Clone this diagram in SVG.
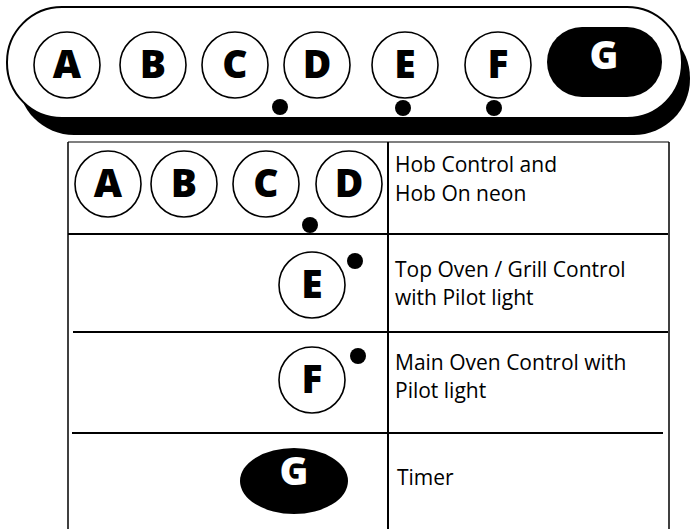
<svg xmlns="http://www.w3.org/2000/svg" width="692" height="529" viewBox="0 0 692 529">
<style>
.knob{fill:#fff;stroke:#000;stroke-width:1.6}
.let{font-family:"Open Sans","Liberation Sans",sans-serif;font-weight:800;font-size:39px;text-anchor:middle;fill:#000}
.letw{font-family:"Open Sans","Liberation Sans",sans-serif;font-weight:800;font-size:39px;text-anchor:middle;fill:#fff}
.dot{fill:#000}
.lbl{font-family:"Open Sans","Liberation Sans",sans-serif;font-size:21px;fill:#000}
.ln{stroke:#000;fill:none}
</style>
<rect width="692" height="529" fill="#fff"/>
<g id="panel">
<rect x="18" y="22" width="672" height="113" rx="56" fill="#000"/>
<rect x="7" y="7" width="675" height="111" rx="55" fill="#fff" stroke="#000" stroke-width="2"/>
</g>
<g id="panel-A"><circle class="knob" cx="67" cy="65" r="33"/><text class="let" x="67" y="78">A</text></g>
<g id="panel-B"><circle class="knob" cx="153" cy="65" r="33"/><text class="let" x="153" y="78">B</text></g>
<g id="panel-C"><circle class="knob" cx="235" cy="65" r="33"/><text class="let" x="235" y="78">C</text></g>
<g id="panel-D"><circle class="knob" cx="317" cy="65" r="33"/><text class="let" x="317" y="78">D</text></g>
<g id="panel-E"><circle class="knob" cx="405" cy="65" r="33"/><text class="let" x="405" y="78">E</text></g>
<g id="panel-F"><circle class="knob" cx="498" cy="65" r="33"/><text class="let" x="498" y="78">F</text></g>
<g id="panel-G"><rect x="547" y="27" width="115" height="70" rx="35" fill="#000"/><text class="letw" x="604" y="69">G</text></g>
<g id="panel-dots">
<circle class="dot" cx="280" cy="107" r="8"/>
<circle class="dot" cx="403" cy="108" r="8"/>
<circle class="dot" cx="494" cy="108" r="8"/>
</g>
<g id="connectors">
<line class="ln" x1="68" y1="142" x2="669" y2="142" stroke-width="1.2"/>
<line class="ln" x1="68" y1="142" x2="68" y2="529" stroke-width="1.5"/>
<line class="ln" x1="669" y1="142" x2="669" y2="529" stroke-width="1.5"/>
<line class="ln" x1="388" y1="142" x2="388" y2="529" stroke-width="2"/>
<line class="ln" x1="68" y1="234" x2="668" y2="234" stroke-width="2"/>
<line class="ln" x1="73" y1="332" x2="668" y2="332" stroke-width="2"/>
<line class="ln" x1="72" y1="433" x2="663" y2="433" stroke-width="2"/>
</g>
<g id="row-hob">
<circle class="knob" cx="108" cy="184" r="33"/><text class="let" x="108" y="197">A</text>
<circle class="knob" cx="184" cy="184" r="33"/><text class="let" x="184" y="197">B</text>
<circle class="knob" cx="266" cy="184" r="33"/><text class="let" x="266" y="197">C</text>
<circle class="knob" cx="349" cy="184" r="33"/><text class="let" x="349" y="197">D</text>
<circle class="dot" cx="310" cy="225" r="8"/>
<text class="lbl" x="395" y="172">Hob Control and</text>
<text class="lbl" x="395" y="201">Hob On neon</text>
</g>
<g id="row-top-oven">
<circle class="knob" cx="312" cy="285" r="33"/><text class="let" x="312" y="298">E</text>
<circle class="dot" cx="355" cy="261" r="8"/>
<text class="lbl" x="395" y="277">Top Oven / Grill Control</text>
<text class="lbl" x="395" y="305">with Pilot light</text>
</g>
<g id="row-main-oven">
<circle class="knob" cx="312" cy="380" r="33"/><text class="let" x="312" y="393">F</text>
<circle class="dot" cx="358" cy="356" r="8"/>
<text class="lbl" x="395" y="370">Main Oven Control with</text>
<text class="lbl" x="395" y="398">Pilot light</text>
</g>
<g id="row-timer">
<ellipse cx="294" cy="481" rx="54" ry="33" fill="#000"/><text class="letw" x="294" y="485">G</text>
<text class="lbl" x="397" y="485">Timer</text>
</g>
</svg>
